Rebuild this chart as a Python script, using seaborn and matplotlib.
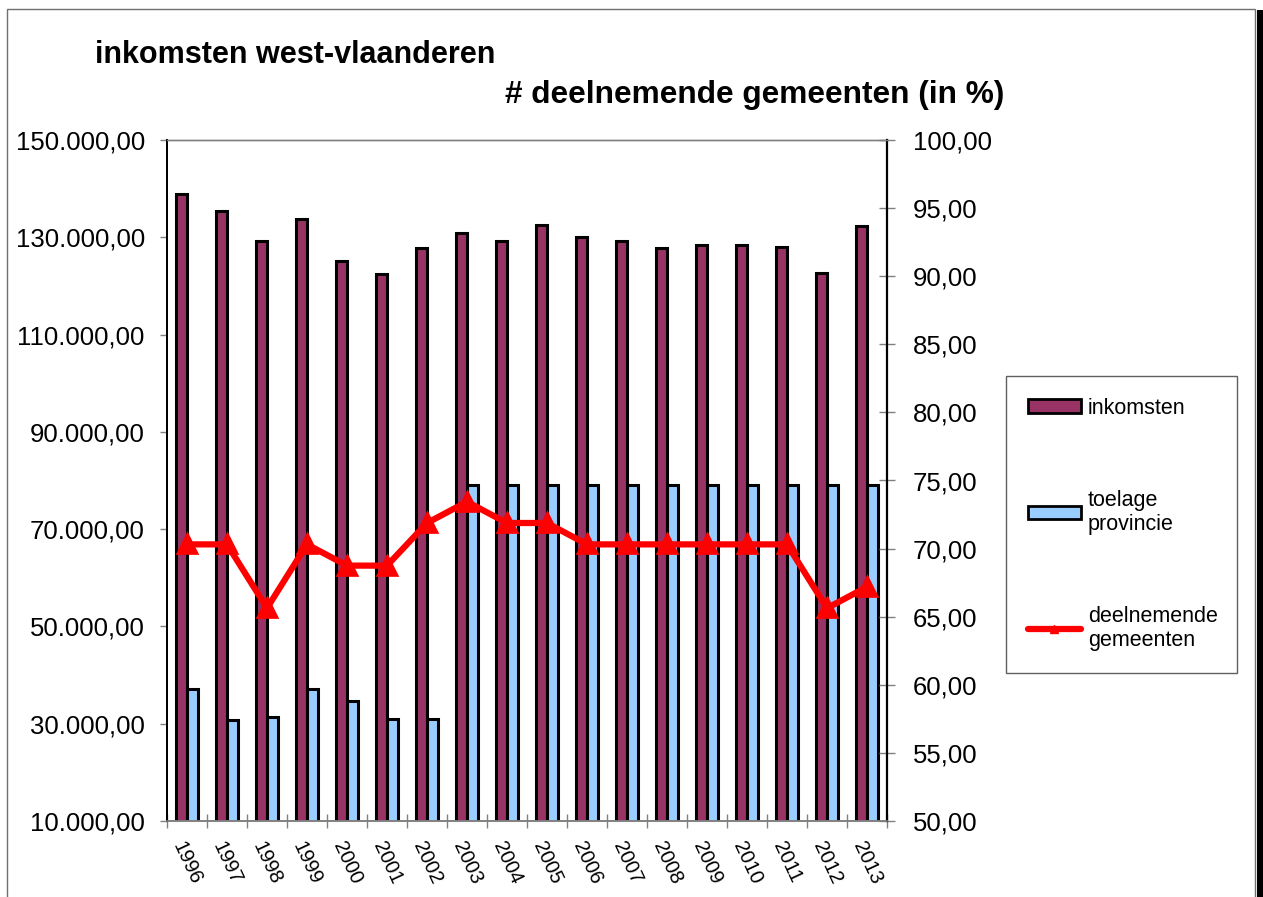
import numpy as np
import pandas as pd
import matplotlib
matplotlib.use("Agg")
import matplotlib.pyplot as plt
import seaborn as sns
from matplotlib.patches import Rectangle, Patch
from matplotlib.lines import Line2D
from matplotlib.ticker import FuncFormatter

# ---- data ----
years = [str(y) for y in range(1996, 2014)]
inkomsten = [138900, 135400, 129300, 133700, 125200, 122450, 127900, 130900, 129200,
             132500, 130100, 129200, 127700, 128400, 128500, 128100, 122600, 132300]
toelage = [37100, 30800, 31400, 37100, 34700, 31000, 31000, 79000, 79000,
           79000, 79000, 79000, 79000, 79000, 79000, 79000, 79000, 79000]
deelnemend = [70.31, 70.31, 65.63, 70.31, 68.75, 68.75, 71.88, 73.44, 71.88,
              71.88, 70.31, 70.31, 70.31, 70.31, 70.31, 70.31, 65.63, 67.19]
series_names = ["inkomsten", "toelage provincie"]
line_name = "deelnemende gemeenten"

df = pd.DataFrame({
    "jaar": years * 2,
    "waarde": inkomsten + toelage,
    "reeks": [series_names[0]] * len(years) + [series_names[1]] * len(years),
})
df_line = pd.DataFrame({"jaar": years, "pct": deelnemend})

sns.set_style("white")
plt.rcParams["font.family"] = ["Liberation Sans", "DejaVu Sans"]
plt.rcParams["text.color"] = "black"
plt.rcParams["xtick.labelcolor"] = "black"
plt.rcParams["ytick.labelcolor"] = "black"

W, H = 1263, 897
fig = plt.figure(figsize=(W / 100, H / 100), dpi=100)
fig.patch.set_facecolor("white")
ax = fig.add_axes([167 / W, 1 - 821 / H, (887 - 167) / W, (821 - 140) / H])

c_ink = "#993366"
c_toe = "#99CCFF"
c_line = "#FF0000"

sns.barplot(data=df, x="jaar", y="waarde", hue="reeks", hue_order=series_names,
            palette=[c_ink, c_toe], width=0.57, edgecolor="black", linewidth=2.2,
            saturation=1, ax=ax, legend=False, zorder=2)
ax.set_ylim(10000, 150000)
ax.set_yticks(np.arange(10000, 150001, 20000))
ax.set_xlim(-0.5, len(years) - 0.5)


def nl_fmt(v, _pos=None):
    s = f"{v:,.2f}"
    return s.replace(",", "X").replace(".", ",").replace("X", ".")


ax.yaxis.set_major_formatter(FuncFormatter(nl_fmt))
ax.set_xlabel("")
ax.set_ylabel("")
ax.tick_params(axis="y", which="major", labelsize=18.5, length=5, direction="out",
               color="#808080", width=1, pad=11, left=True, labelcolor="black")
ax.set_xticks(np.arange(-0.5, len(years), 1), minor=True)
ax.tick_params(axis="x", which="minor", length=10, direction="inout", color="#808080",
               width=1, bottom=True)
ax.tick_params(axis="x", which="major", length=0, pad=13, labelcolor="black")
for lbl in ax.get_xticklabels():
    lbl.set_rotation(-65)
    lbl.set_fontsize(14.5)
    lbl.set_ha("center")
    lbl.set_va("top")

ax2 = ax.twinx()
sns.pointplot(data=df_line, x="jaar", y="pct", color=c_line, markers="^",
              linestyles="-", markersize=12, linewidth=4.5, ax=ax2)
ax2.set_ylim(50, 100)
ax2.set_yticks(np.arange(50, 100.1, 5))
ax2.yaxis.set_major_formatter(FuncFormatter(nl_fmt))
ax2.set_xlim(-0.5, len(years) - 0.5)
ax2.set_ylabel("")
ax2.tick_params(axis="y", which="major", labelsize=18.5, length=11, direction="inout",
                color="#808080", width=1, pad=13, right=True, labelcolor="black")

for a in (ax, ax2):
    a.spines["top"].set_color("#808080")
    a.spines["bottom"].set_color("#808080")
    a.spines["top"].set_linewidth(1)
    a.spines["bottom"].set_linewidth(1.2)
    a.spines["left"].set_color("black")
    a.spines["right"].set_color("black")
    a.spines["left"].set_linewidth(1.3)
    a.spines["right"].set_linewidth(1.6)
    a.grid(False)
ax.spines["right"].set_visible(False)

# titles
fig.text(95 / W, 1 - 63 / H, "inkomsten west-vlaanderen", fontsize=22,
         fontweight="bold", ha="left", va="baseline", color="black")
fig.text(505 / W, 1 - 103 / H, "# deelnemende gemeenten (in %)", fontsize=22.8,
         fontweight="bold", ha="left", va="baseline", color="black")

# legend
handles = [
    Patch(facecolor=c_ink, edgecolor="black", linewidth=2),
    Patch(facecolor=c_toe, edgecolor="black", linewidth=2),
    Line2D([0], [0], color=c_line, linewidth=4.5, marker="^", markersize=6),
]
labels = ["inkomsten", "toelage\nprovincie", "deelnemende\ngemeenten"]
leg = fig.legend(handles, labels, loc="upper left",
                 bbox_to_anchor=(1006 / W, 1 - 672 / H, 231 / W, 296 / H),
                 bbox_transform=fig.transFigure, mode="expand",
                 fontsize=15.5, frameon=True, fancybox=False, shadow=False,
                 framealpha=1, edgecolor="#606060", borderpad=1.0,
                 labelspacing=3.3, handlelength=2.5, handleheight=0.6,
                 handletextpad=0.3, borderaxespad=0)
leg.get_frame().set_linewidth(1)
for t in leg.get_texts():
    t.set_color("black")

# chart frame
fig.add_artist(Rectangle((7 / W, -0.01), (1255 - 7) / W, (897 - 9) / H + 0.01,
                         transform=fig.transFigure, fill=False,
                         edgecolor="#707070", linewidth=1))
fig.add_artist(Rectangle((1257 / W, 0), 6 / W, (897 - 10) / H,
                         transform=fig.transFigure, facecolor="black",
                         edgecolor="none"))

fig.savefig("out.png", dpi=100, facecolor="white")
